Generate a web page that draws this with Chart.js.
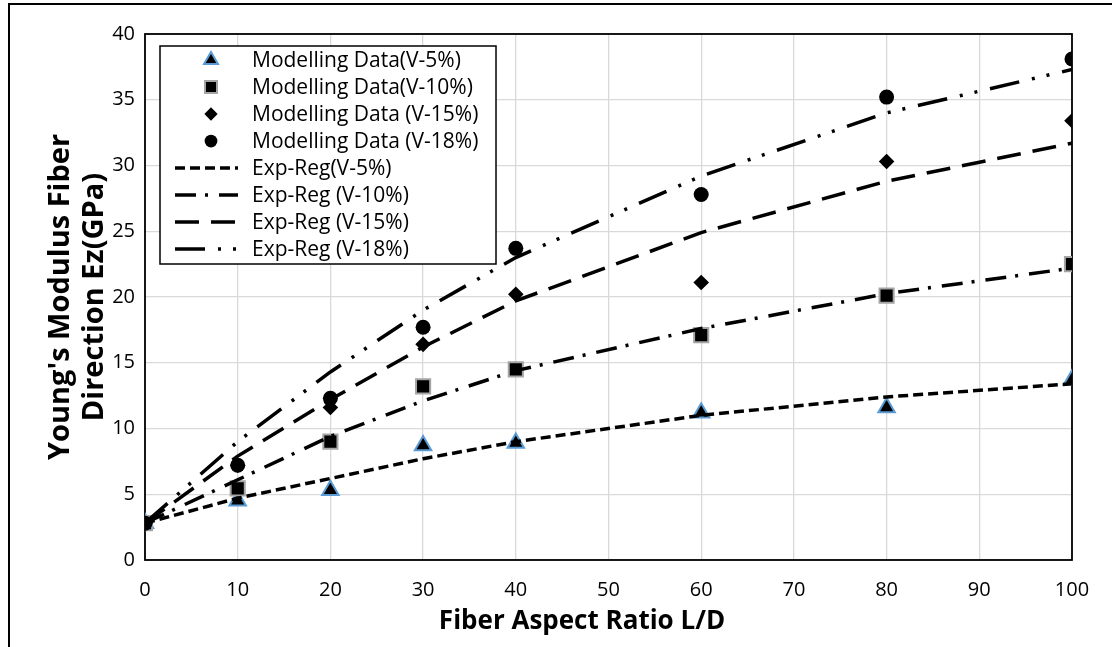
<!DOCTYPE html>
<html>
<head>
<meta charset="utf-8">
<script src="https://cdn.jsdelivr.net/npm/chart.js@4.4.1/dist/chart.umd.min.js"></script>
<style>
html,body{margin:0;padding:0;background:#fff;}
#wrap{width:1112px;height:647px;position:relative;}
</style>
</head>
<body>
<div id="wrap"><canvas id="c" width="1112" height="647"></canvas></div>
<script>
// ---- data ----
const aspectRatios = [0, 10, 20, 30, 40, 60, 80, 100];
const modelV5  = [2.8, 4.5, 5.3, 8.7, 8.9, 11.2, 11.6, 13.7];
const modelV10 = [2.8, 5.45, 9.0, 13.2, 14.5, 17.1, 20.1, 22.5];
const modelV15 = [2.8, 7.2, 11.6, 16.4, 20.2, 21.1, 30.3, 33.4];
const modelV18 = [2.8, 7.2, 12.3, 17.7, 23.7, 27.8, 35.2, 38.1];
const regV5  = [2.8, 4.7, 6.2, 7.7, 9.0, 11.0, 12.4, 13.4];
const regV10 = [2.8, 6.1, 9.4, 12.1, 14.4, 17.6, 20.25, 22.2];
const regV15 = [2.8, 7.9, 12.2, 16.2, 19.7, 24.9, 28.8, 31.7];
const regV18 = [2.8, 9.0, 14.3, 19.0, 23.0, 29.2, 34.0, 37.3];
const seriesLabels = [
  'Modelling Data(V-5%)', 'Modelling Data(V-10%)', 'Modelling Data (V-15%)', 'Modelling Data (V-18%)',
  'Exp-Reg(V-5%)', 'Exp-Reg (V-10%)', 'Exp-Reg (V-15%)', 'Exp-Reg (V-18%)'
];
const xTitle = 'Fiber Aspect Ratio L/D';
const yTitle = ["Young's Modulus Fiber", 'Direction Ez(GPa)'];

const toPts = arr => aspectRatios.map((x, i) => ({x: x, y: arr[i]}));

const FONT = "'Open Sans', 'Liberation Sans', sans-serif";
Chart.defaults.font.family = FONT;
Chart.defaults.color = '#000';

function markerSet(label, data, style, radius, fill, border, bw, order) {
  return {label, data: toPts(data), showLine: false, pointStyle: style, pointRadius: radius,
    pointHoverRadius: radius, pointBackgroundColor: fill, pointBorderColor: border,
    pointBorderWidth: bw, backgroundColor: fill, borderColor: border, order};
}
function lineSet(label, data, dash, order) {
  return {label, data: toPts(data), showLine: true, pointRadius: 0, borderColor: '#000',
    borderWidth: 3.5, borderDash: dash, borderCapStyle: 'butt', tension: 0, fill: false, order};
}

const datasets = [
  markerSet(seriesLabels[0], modelV5, 'triangle', 9.5, '#000', '#5B9BD5', 2, 7),
  markerSet(seriesLabels[1], modelV10, 'rect', 10, '#000', '#A5A5A5', 2, 6),
  markerSet(seriesLabels[2], modelV15, 'rectRot', 7.8, '#000', '#000', 0, 5),
  markerSet(seriesLabels[3], modelV18, 'circle', 7.5, '#000', '#000', 0, 4),
  lineSet(seriesLabels[4], regV5, [10, 5], 3),
  lineSet(seriesLabels[5], regV10, [21, 9, 3, 11], 2),
  lineSet(seriesLabels[6], regV15, [24, 12], 1),
  lineSet(seriesLabels[7], regV18, [30, 13, 3, 12, 3, 13], 0)
];

const frame = {
  id: 'frame',
  beforeDraw(chart) {
    const ctx = chart.ctx;
    ctx.save();
    ctx.fillStyle = '#fff';
    ctx.fillRect(0, 0, chart.width, chart.height);
    ctx.strokeStyle = '#000';
    ctx.lineWidth = 2;
    ctx.strokeRect(9, 4, chart.width + 20, chart.height + 20);
    ctx.restore();
  },
  beforeDatasetsDraw(chart) {
    const a = chart.chartArea, ctx = chart.ctx;
    ctx.save();
    ctx.strokeStyle = '#000';
    ctx.lineWidth = 1.8;
    ctx.strokeRect(a.left, a.top, a.right - a.left, a.bottom - a.top);
    ctx.restore();
  },
  afterDraw(chart) {
    // x-axis title, placed where the reference has it (slightly left of plot centre)
    const ctx = chart.ctx;
    ctx.save();
    ctx.font = "bold 26px " + FONT;
    ctx.fillStyle = '#000';
    ctx.textAlign = 'center';
    ctx.textBaseline = 'middle';
    ctx.fillText(xTitle, 582, 622);
    ctx.restore();
  }
};

const boxLegend = {
  id: 'boxLegend',
  afterDraw(chart) {
    const ctx = chart.ctx;
    const bx = 160, by = 46, bw = 336, bh = 218;
    ctx.save();
    ctx.fillStyle = '#fff';
    ctx.fillRect(bx, by, bw, bh);
    ctx.strokeStyle = '#000';
    ctx.lineWidth = 1.5;
    ctx.strokeRect(bx, by, bw, bh);
    ctx.font = "21px " + FONT;
    ctx.textBaseline = 'middle';
    ctx.textAlign = 'left';
    chart.data.datasets.forEach((ds, i) => {
      const y = 60 + i * 27;
      if (ds.showLine) {
        ctx.save();
        ctx.strokeStyle = ds.borderColor;
        ctx.lineWidth = ds.borderWidth;
        ctx.setLineDash(ds.borderDash);
        ctx.lineCap = 'butt';
        ctx.beginPath();
        ctx.moveTo(175, y);
        ctx.lineTo(238, y);
        ctx.stroke();
        ctx.restore();
      } else {
        ctx.save();
        ctx.fillStyle = ds.pointBackgroundColor;
        ctx.strokeStyle = ds.pointBorderColor;
        ctx.lineWidth = ds.pointBorderWidth;
        Chart.helpers.drawPoint(ctx, {pointStyle: ds.pointStyle, radius: ds.pointRadius * 0.85,
          rotation: 0, borderWidth: ds.pointBorderWidth}, 211, y);
        ctx.restore();
      }
      ctx.fillStyle = '#000';
      ctx.fillText(ds.label, 252, y + 1);
    });
    ctx.restore();
  }
};

new Chart(document.getElementById('c'), {
  type: 'scatter',
  data: {datasets},
  plugins: [frame, boxLegend],
  options: {
    responsive: false,
    animation: false,
    events: [],
    layout: {padding: {left: 43, right: 40, top: 34, bottom: 0}},
    plugins: {legend: {display: false}, tooltip: {enabled: false}},
    scales: {
      x: {
        type: 'linear', min: 0, max: 100,
        ticks: {stepSize: 10, font: {size: 20}, color: '#000', padding: 18},
        grid: {color: '#D9D9D9', lineWidth: 1.3, drawTicks: false},
        border: {display: false},
        title: {display: false, text: xTitle},
        afterFit(s) { s.height = 87; }
      },
      y: {
        type: 'linear', min: 0, max: 40,
        ticks: {stepSize: 5, font: {size: 20}, color: '#000', padding: 10},
        grid: {color: '#D9D9D9', lineWidth: 1.3, drawTicks: false},
        border: {display: false},
        title: {display: true, text: yTitle, font: {size: 29, weight: 'bold', lineHeight: 1.2}, color: '#000', padding: 0},
        afterFit(s) { s.width = 102; }
      }
    }
  }
});
</script>
</body>
</html>
